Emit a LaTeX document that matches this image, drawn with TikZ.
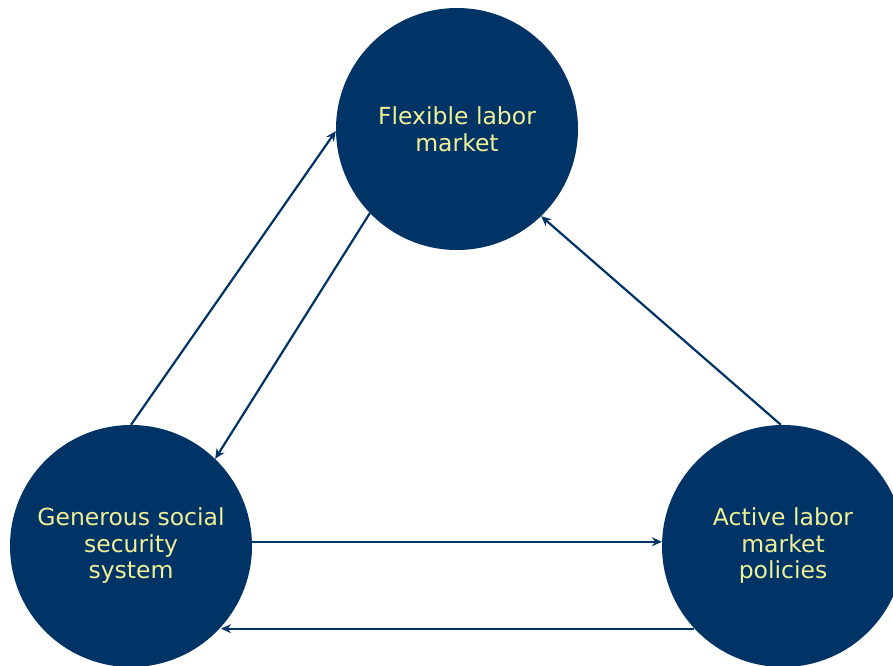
\documentclass[tikz,border=0pt]{standalone}
\usepackage{fontspec}
\setmainfont{DejaVu Sans}
\usetikzlibrary{arrows.meta}
\definecolor{navy}{RGB}{0,51,102}
\definecolor{paleyellow}{RGB}{240,240,150}
\begin{document}
\begin{tikzpicture}[x=1pt,y=-1pt,
  bubble/.style={circle,fill=navy,draw=none,minimum size=242pt,inner sep=0pt,
    text=paleyellow,align=center,font=\fontsize{23.5}{26.5}\selectfont},
  arr/.style={draw=navy,line width=2.2pt,-{Stealth[length=10pt,width=9pt]}}]
\useasboundingbox (0,0) rectangle (893,665);
\node[bubble] (T) at (457,129) {Flexible labor\\market};
\node[bubble] (L) at (131,546) {Generous social\\security\\system};
\node[bubble] (R) at (783,546) {Active labor\\market\\policies};
\draw[arr] (L.90.5) -- (T.181.5);
\draw[arr] (T.224) -- (L.46);
\draw[arr] (R.91.4) -- (T.314);
\draw[arr] (L.2) -- (R.178);
\draw[arr] (R.223.5) -- (R.223.5 -| L.318);
\end{tikzpicture}
\end{document}
